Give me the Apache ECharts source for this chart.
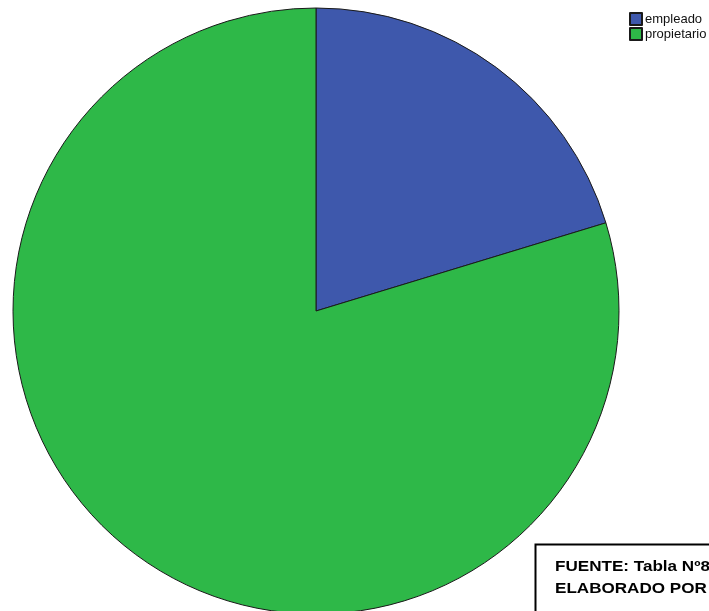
<!DOCTYPE html>
<html><head><meta charset="utf-8">
<script src="https://cdn.jsdelivr.net/npm/echarts@6/dist/echarts.min.js"></script>
<style>html,body{margin:0;padding:0;background:#fff}#c{width:709px;height:611px}</style>
</head><body><div id="c"></div>
<script>
const categories = ['empleado', 'propietario'];
const values = [20.3, 79.7];
const colors = ['#3E58AC', '#2EB848'];
const noteLines = ['FUENTE: Tabla Nº8', 'ELABORADO POR'];

const chart = echarts.init(document.getElementById('c'));
chart.setOption({
  animation: false,
  backgroundColor: '#ffffff',
  legend: {
    orient: 'vertical',
    left: 624,
    top: 7,
    itemWidth: 12,
    itemHeight: 12,
    itemGap: 1,
    icon: 'rect',
    textStyle: { fontFamily: 'Liberation Sans, Arial', fontSize: 13, color: '#111', padding: [0, 0, 0, -2] },
    data: categories
  },
  series: [{
    type: 'pie',
    center: [316, 311],
    radius: [0, 303],
    startAngle: 90,
    clockwise: true,
    label: { show: false },
    labelLine: { show: false },
    emphasis: { disabled: true },
    itemStyle: { borderColor: '#1a1a1a', borderWidth: 1 },
    data: categories.map((c, i) => ({ name: c, value: values[i], itemStyle: { color: colors[i] } }))
  }],
  graphic: [
    { type: 'rect', shape: { x: 535.5, y: 544.5, width: 200, height: 100 }, style: { fill: '#fff', stroke: '#000', lineWidth: 2 } },
    { type: 'text', x: 555, y: 556, scaleX: 1.22, style: { text: noteLines.join('\n'), font: 'bold 14px Liberation Sans, Arial', fill: '#000', lineHeight: 22, verticalAlign: 'top' } }
  ]
});
</script></body></html>
